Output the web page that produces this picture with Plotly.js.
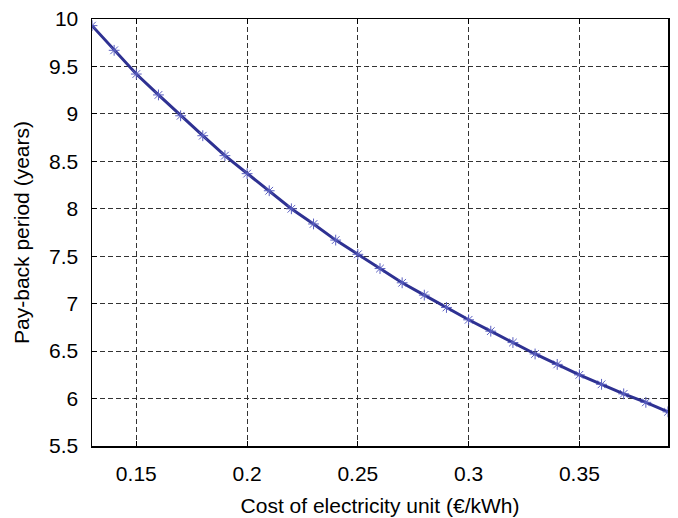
<!DOCTYPE html>
<html>
<head>
<meta charset="utf-8">
<script src="https://cdn.plot.ly/plotly-3.0.1.min.js"></script>
<style>html,body{margin:0;padding:0;background:#fff;}#chart{width:678px;height:518px;}</style>
</head>
<body>
<div id="chart"></div>
<script>
const costPerKWh = [0.13,0.14,0.15,0.16,0.17,0.18,0.19,0.20,0.21,0.22,0.23,0.24,0.25,0.26,0.27,0.28,0.29,0.30,0.31,0.32,0.33,0.34,0.35,0.36,0.37,0.38,0.39];
const paybackYears = [9.93,9.67,9.42,9.20,8.98,8.77,8.56,8.37,8.19,8.00,7.84,7.67,7.52,7.37,7.22,7.09,6.96,6.83,6.71,6.59,6.47,6.36,6.25,6.15,6.05,5.96,5.86];
const xTitle = 'Cost of electricity unit (€/kWh)';
const yTitle = 'Pay-back period (years)';

const font = 'Liberation Sans, Arial, sans-serif';
const axisCommon = {
  showline: true, linecolor: '#000', linewidth: 1.5, mirror: 'ticks',
  ticks: 'inside', ticklen: 5, tickcolor: '#000', tickwidth: 1,
  showgrid: true, gridcolor: '#333', gridwidth: 1, griddash: '5px,3px',
  zeroline: false, tickfont: {family: font, size: 21, color: '#000'},
  ticklabelstandoff: 8
};
Plotly.newPlot('chart', [{
  x: costPerKWh, y: paybackYears, type: 'scatter', mode: 'lines+markers',
  line: {color: '#2e3192', width: 3},
  marker: {symbol: 'asterisk-open', size: 9, color: '#5a5fc0', line: {color: '#5a5fc0', width: 1}}
}], {
  width: 678, height: 518,
  margin: {l: 92, r: 10, t: 19, b: 72},
  paper_bgcolor: '#fff', plot_bgcolor: '#fff',
  showlegend: false,
  xaxis: Object.assign({}, axisCommon, {
    range: [0.13, 0.39], tick0: 0.15, dtick: 0.05,
    title: {text: xTitle, font: {family: font, size: 21, color: '#000'}, standoff: 14}
  }),
  yaxis: Object.assign({}, axisCommon, {
    range: [5.5, 10], tick0: 5.5, dtick: 0.5,
    title: {text: yTitle, font: {family: font, size: 21, color: '#000'}, standoff: 13}
  })
}, {staticPlot: true});
</script>
</body>
</html>
